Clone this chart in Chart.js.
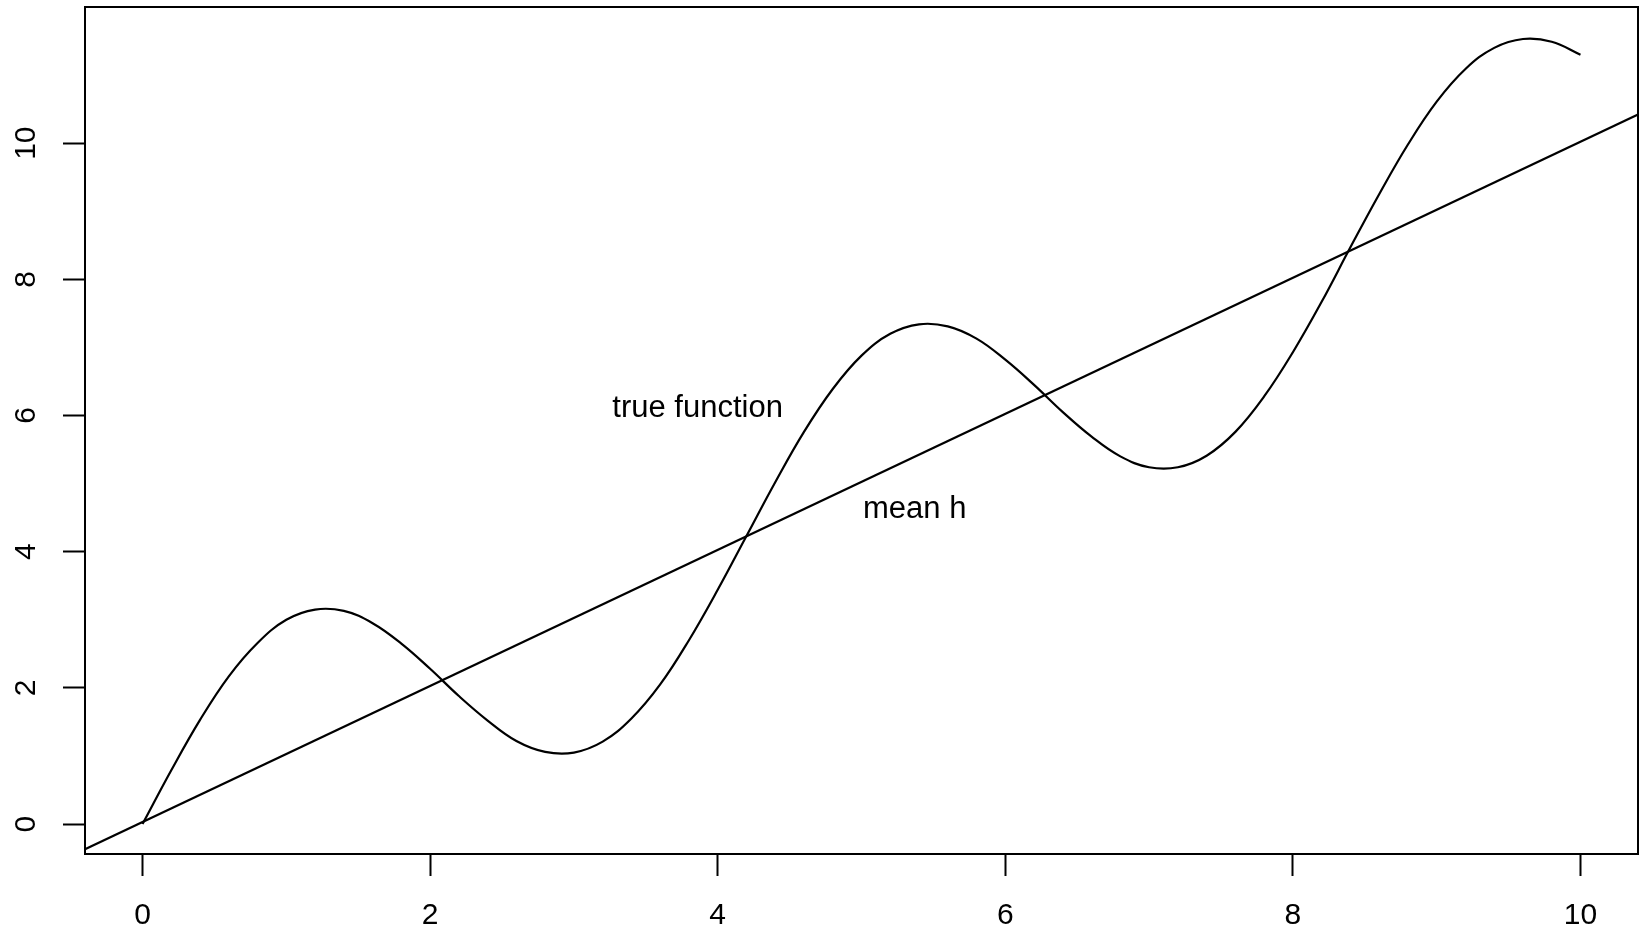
<!DOCTYPE html>
<html>
<head>
<meta charset="utf-8">
<script src="https://cdn.jsdelivr.net/npm/chart.js@4/dist/chart.umd.min.js"></script>
<style>
    html, body { margin: 0; padding: 0; background: #fff; }
    .wrap { width: 1643px; height: 933px; position: relative; }
</style>
</head>
<body>
<div class="wrap"><canvas id="plot"></canvas></div>
<script>
// ? data
var trueX = [0, 0.2, 0.4, 0.6, 0.8, 1.0, 1.2, 1.4, 1.6, 1.8,
    2.0, 2.2, 2.4, 2.6, 2.8, 3.0, 3.2, 3.4, 3.6, 3.8,
    4.0, 4.2, 4.4, 4.6, 4.8, 5.0, 5.2, 5.4, 5.6, 5.8,
    6.0, 6.2, 6.4, 6.6, 6.8, 7.0, 7.2, 7.4, 7.6, 7.8,
    8.0, 8.2, 8.4, 8.6, 8.8, 9.0, 9.2, 9.4, 9.6, 9.8, 10.0];
var trueY = [0, 0.79, 1.53, 2.17, 2.66, 3.00, 3.15, 3.13, 2.95, 2.65,
    2.28, 1.88, 1.52, 1.22, 1.06, 1.05, 1.21, 1.55, 2.05, 2.70,
    3.44, 4.23, 5.02, 5.76, 6.39, 6.88, 7.20, 7.34, 7.31, 7.13,
    6.82, 6.45, 6.05, 5.69, 5.40, 5.24, 5.24, 5.41, 5.76, 6.28,
    6.93, 7.67, 8.47, 9.25, 9.98, 10.61, 11.09, 11.40, 11.53, 11.49, 11.30];

var meanX = [-0.4, 10.4];
var meanY = [-0.37, 10.42];

var xTicks = [0, 2, 4, 6, 8, 10];
var yTicks = [0, 2, 4, 6, 8, 10];

var noteText = ["true function", "mean h"];
var noteX = [3.86, 5.37];
var noteY = [6.10, 4.62];

function pairs(xs, ys) {
    return xs.map(function (x, i) {
        return { x: x, y: ys[i] };
    });
}

var font = "'Liberation Sans', Arial, sans-serif";

//! box + notes
var extras = {
    id: "extras",
    afterDraw: function (chart) {
        var ctx = chart.ctx;
        var a = chart.chartArea;
        ctx.save();
        ctx.strokeStyle = "#000";
        ctx.lineWidth = 2;
        ctx.strokeRect(a.left, a.top, a.right - a.left, a.bottom - a.top);
        ctx.fillStyle = "#000";
        ctx.font = "31px " + font;
        ctx.textAlign = "center";
        ctx.textBaseline = "middle";
        noteText.forEach(function (t, i) {
            ctx.fillText(t, chart.scales.x.getPixelForValue(noteX[i]), chart.scales.y.getPixelForValue(noteY[i]));
        });
        ctx.restore();
    },
};

var axisLook = {
    border: { display: true, color: "#000", width: 2 },
    grid: {
        drawOnChartArea: false,
        drawTicks: true,
        tickLength: 22,
        tickWidth: 2,
        tickColor: "#000",
    },
};

var plot = new Chart(document.getElementById("plot"), {
    type: "line",
    data: {
        datasets: [
            {
                label: "true function",
                data: pairs(trueX, trueY),
                borderColor: "#000",
                borderWidth: 2.2,
                pointRadius: 0,
                fill: false,
                tension: 0.4,
            },
            {
                label: "mean h",
                data: pairs(meanX, meanY),
                borderColor: "#000",
                borderWidth: 2.2,
                pointRadius: 0,
                fill: false,
            },
        ],
    },
    options: {
        responsive: true,
        maintainAspectRatio: false,
        animation: false,
        layout: { padding: { top: 7, right: 5, left: 0, bottom: 0 } },
        plugins: {
            legend: { display: false },
            tooltip: { enabled: false },
        },
        scales: {
            x: Object.assign({}, axisLook, {
                type: "linear",
                min: -0.4,
                max: 10.4,
                afterBuildTicks: function (s) {
                    s.ticks = xTicks.map(function (v) { return { value: v }; });
                },
                afterFit: function (s) {
                    s.height = 79;
                    s.paddingLeft = 0;
                    s.paddingRight = 0;
                },
                ticks: {
                    color: "#000",
                    font: { family: font, size: 30 },
                    padding: 22,
                    maxRotation: 0,
                },
            }),
            y: Object.assign({}, axisLook, {
                type: "linear",
                min: -0.44,
                max: 12.0,
                afterBuildTicks: function (s) {
                    s.ticks = yTicks.map(function (v) { return { value: v }; });
                },
                afterFit: function (s) {
                    s.width = 85;
                    s.paddingTop = 0;
                    s.paddingBottom = 0;
                },
                ticks: {
                    color: "#000",
                    font: { family: font, size: 30 },
                    padding: 20,
                    minRotation: 90,
                    maxRotation: 90,
                    crossAlign: "center",
                },
            }),
        },
    },
    plugins: [extras],
});
</script>
</body>
</html>
